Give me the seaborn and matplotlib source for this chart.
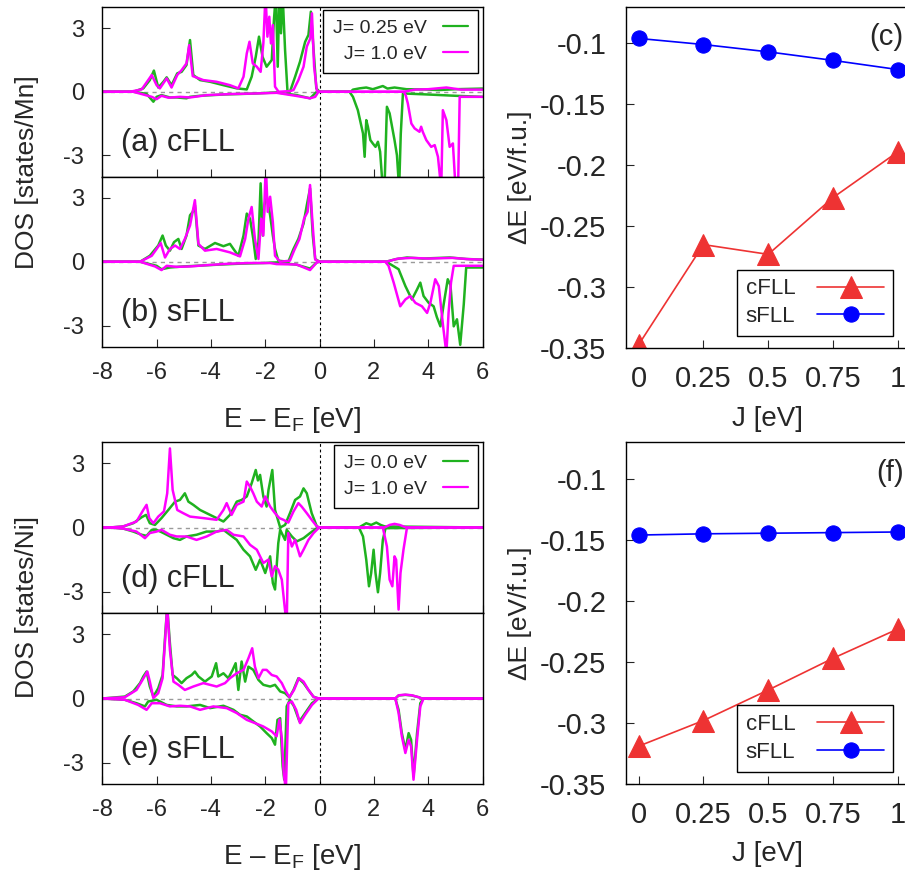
import matplotlib
matplotlib.use("Agg")
import matplotlib.pyplot as plt
from matplotlib.lines import Line2D
import seaborn as sns

# ---------------- data ----------------
# (a) Mn, cFLL : green J=0.25 eV, magenta J=1.0 eV
a_g_up_E = [-8, -6.86, -6.49, -6.25, -6.1, -5.94, -5.75, -5.63, -5.45, -5.24, -5.08, -4.9, -4.77, -4.65, -4.4,
            -4.03, -3.54, -3.05, -2.68, -2.5, -2.35, -2.23, -2.1, -1.95, -1.76, -1.68, -1.61, -1.54, -1.48, -1.42,
            -1.36, -1.27, -1.18, -1.09, -0.9, -0.72, -0.53, -0.41, -0.32, -0.22, -0.12, 0.0, 1.15, 1.23, 1.47,
            1.72, 1.96, 2.33, 2.5, 2.76, 3.2, 3.8, 4.4, 5.0, 6.0]
a_g_up_D = [0, 0, 0.16, 0.55, 1.0, 0.2, 0.47, 0.68, 0.31, 0.87, 0.94, 1.26, 2.44, 0.79, 0.55,
            0.47, 0.31, 0.16, 0.11, 0.71, 1.65, 2.6, 1.65, 1.18, 1.5, 3.39, 4.6, 1.18, 4.6, 2.76,
            4.6, 1.97, 0, 0, 0.71, 1.42, 2.36, 2.68, 3.78, 1.97, 0.16, 0, 0, 0.1, 0.16,
            0.2, 0.12, 0.27, 0.15, 0.2, 0.12, 0.11, 0.08, 0.12, 0.15]
a_m_up_E = [-8, -6.98, -6.55, -6.31, -6.18, -6.0, -5.88, -5.63, -5.45, -5.24, -5.08, -4.9, -4.8, -4.67, -4.28,
            -3.79, -3.3, -2.99, -2.8, -2.68, -2.58, -2.46, -2.31, -2.17, -2.07, -1.99, -1.92, -1.85, -1.79, -1.72,
            -1.64, -1.51, -1.09, -0.96, -0.78, -0.59, -0.47, -0.34, -0.28, -0.2, -0.1, 0.0, 3.1, 3.5, 4.0,
            4.67, 5.2, 6.0]
a_m_up_D = [0, 0, 0.11, 0.55, 0.79, 0.31, 0.16, 0.63, 0.2, 0.79, 1.02, 1.34, 2.2, 0.74, 0.55,
            0.47, 0.31, 0.16, 0.71, 1.81, 2.36, 1.34, 1.18, 0.94, 2.28, 4.6, 2.6, 3.54, 2.28, 3.15,
            0.24, 0, 0.03, 0.08, 0.55, 1.18, 2.13, 2.52, 3.7, 1.18, 0.05, 0, 0, 0.1, 0.12,
            0.2, 0.1, 0.1]
a_g_dn_E = [-8, -6.86, -6.37, -6.12, -6.0, -5.82, -5.51, -5.26, -4.9, -4.77, -4.4, -3.54, -2.31, -1.58, -0.84,
            -0.35, -0.1, 0.0, 1.1, 1.23, 1.41, 1.6, 1.66, 1.72, 1.78, 1.87, 1.96, 2.06, 2.15, 2.23,
            2.33, 2.39, 2.48, 2.58, 2.76, 2.85, 2.93, 2.99, 3.07, 4.0, 5.0, 6.0]
a_g_dn_D = [0, 0, -0.1, -0.47, -0.24, -0.16, -0.27, -0.27, -0.31, -0.24, -0.19, -0.13, -0.08, -0.03, -0.16,
            -0.31, 0, 0, 0, -0.24, -0.87, -1.97, -3.07, -1.34, -1.65, -2.28, -2.44, -2.6, -2.36, -2.83,
            -4.6, -4.6, -0.71, -1.02, -2.28, -3.0, -4.6, -2.0, -0.08, -0.13, -0.19, -0.24]
a_m_dn_E = [-8, -6.86, -6.18, -6.0, -5.82, -5.57, -5.14, -4.77, -4.16, -3.3, -2.31, -1.58, -0.84, -0.35, -0.16,
            -0.04, 0.0, 3.1, 3.17, 3.25, 3.38, 3.5, 3.68, 3.74, 3.8, 3.93, 4.11, 4.24, 4.36, 4.48,
            4.54, 4.67, 4.79, 4.91, 5.01, 5.1, 5.16, 6.0]
a_m_dn_D = [0, 0, -0.24, -0.35, -0.19, -0.28, -0.24, -0.27, -0.16, -0.11, -0.08, -0.05, -0.2, -0.31, -0.24,
            0, 0, 0, -0.16, -0.55, -1.5, -1.73, -1.89, -1.65, -1.89, -2.28, -2.6, -2.52, -3.07, -4.6,
            -0.87, -1.34, -2.6, -2.44, -4.6, -4.6, -0.24, -0.24]

# (b) Mn, sFLL
b_g_up_E = [-8, -6.61, -6.25, -5.94, -5.78, -5.66, -5.51, -5.36, -5.2, -5.08, -4.9, -4.77, -4.67, -4.59, -4.46,
            -4.22, -3.85, -3.54, -3.3, -3.17, -2.99, -2.8, -2.68, -2.56, -2.44, -2.35, -2.25, -2.17, -2.09, -2.03,
            -1.95, -1.82, -1.72, -1.64, -1.52, -1.15, -0.96, -0.78, -0.59, -0.47, -0.35, -0.25, -0.16, 0.0, 2.45,
            2.8, 3.22, 3.8, 4.8, 5.4, 6.0]
b_g_up_D = [0, 0, 0.28, 0.76, 1.23, 0.76, 0.52, 0.92, 1.07, 0.6, 1.23, 2.18, 2.34, 2.65, 0.76,
            0.6, 0.88, 0.73, 0.84, 0.6, 0.28, 1.23, 2.26, 2.02, 1.07, 0.13, 0.92, 3.68, 1.23, 2.65,
            3.13, 2.18, 1.23, 0.6, 0.05, 0, 0.6, 1.07, 1.79, 2.65, 3.44, 1.23, 0.13, 0, 0,
            0.12, 0.2, 0.15, 0.2, 0.13, 0.1]
b_m_up_E = [-8, -6.61, -6.18, -6.0, -5.85, -5.69, -5.51, -5.32, -5.14, -4.96, -4.77, -4.59, -4.46, -4.22, -3.79,
            -3.3, -2.93, -2.74, -2.62, -2.5, -2.38, -2.25, -2.15, -2.07, -1.98, -1.91, -1.82, -1.72, -1.64, -1.45,
            -1.09, -0.94, -0.74, -0.57, -0.44, -0.35, -0.27, -0.16, 0.0, 2.45, 2.9, 3.4, 4.0, 4.9, 5.5, 6.0]
b_m_up_D = [0, 0, 0.28, 0.6, 0.88, 0.2, 0.6, 0.76, 0.6, 1.07, 1.7, 2.89, 0.84, 0.52, 0.6,
            0.44, 0.25, 1.07, 2.02, 2.57, 1.07, 0.13, 2.02, 1.23, 4.6, 2.34, 3.05, 1.86, 0.28, 0,
            0.05, 0.52, 1.07, 2.02, 2.34, 3.6, 2.02, 0.1, 0, 0, 0.15, 0.18, 0.15, 0.18, 0.12, 0.1]
b_g_dn_E = [-8, -6.61, -6.0, -5.82, -5.51, -5.02, -4.53, -3.79, -2.93, -2.07, -1.58, -0.84, -0.35, -0.1, 0.0,
            2.42, 2.6, 2.91, 3.16, 3.4, 3.59, 3.71, 3.83, 4.02, 4.2, 4.32, 4.45, 4.57, 4.72, 4.82,
            4.94, 5.06, 5.18, 5.31, 5.4, 6.0]
b_g_dn_D = [0, 0, -0.19, -0.35, -0.27, -0.22, -0.19, -0.14, -0.09, -0.06, -0.03, -0.14, -0.32, -0.03, 0,
            0, -0.11, -0.35, -1.14, -1.77, -1.3, -0.98, -1.61, -1.93, -2.09, -2.6, -3.03, -2.0, -0.82, -1.1,
            -3.03, -2.7, -3.9, -2.0, -0.27, -0.27]
b_m_dn_E = [-8, -6.61, -6.06, -5.82, -5.63, -5.26, -4.77, -4.16, -3.3, -2.56, -1.82, -1.58, -0.84, -0.35, -0.1,
            0.0, 2.42, 2.54, 2.73, 2.97, 3.16, 3.34, 3.53, 3.77, 3.96, 4.08, 4.26, 4.39, 4.55, 4.67,
            4.75, 4.84, 4.94, 6.0]
b_m_dn_D = [0, 0, -0.22, -0.39, -0.19, -0.24, -0.22, -0.16, -0.09, -0.06, -0.06, -0.11, -0.13, -0.39, -0.03,
            0, 0, -0.19, -0.98, -2.09, -1.77, -1.61, -1.93, -2.09, -2.4, -1.93, -0.82, -1.14, -3.03, -4.3,
            -2.4, -0.98, -0.19, -0.19]

# (d) Ni, cFLL : green J=0.0 eV, magenta J=1.0 eV
d_g_up_E = [-8, -7.72, -7.23, -6.86, -6.55, -6.39, -6.25, -6.06, -5.82, -5.57, -5.32, -5.14, -4.96, -4.83, -4.65,
            -4.4, -4.16, -3.79, -3.54, -3.3, -3.05, -2.87, -2.68, -2.5, -2.35, -2.27, -2.19, -2.07, -1.95, -1.88,
            -1.74, -1.64, -1.45, -1.27, -1.09, -0.9, -0.72, -0.59, -0.47, -0.29, -0.1, 0.0, 1.45, 1.72, 1.9,
            2.09, 2.25, 2.4, 6.0]
d_g_up_D = [0, 0, 0.05, 0.2, 0.48, 0.59, 0.2, 0.12, 0.44, 0.82, 1.21, 1.29, 1.6, 1.21, 1.06,
            0.82, 0.67, 0.44, 0.28, 0.59, 1.21, 1.29, 1.45, 2.07, 2.69, 2.2, 2.46, 1.45, 0.98, 1.76,
            2.69, 0.82, 0, 0.12, 0.67, 1.29, 1.45, 1.83, 1.6, 0.67, 0.05, 0, 0, 0.2, 0.12,
            0.23, 0.12, 0.05, 0]
d_m_up_E = [-8, -7.72, -7.23, -6.74, -6.49, -6.37, -6.27, -6.12, -5.94, -5.73, -5.61, -5.51, -5.41, -5.24, -5.02,
            -4.77, -4.28, -3.79, -3.54, -3.42, -3.24, -3.05, -2.8, -2.68, -2.56, -2.44, -2.31, -2.13, -2.0, -1.82,
            -1.64, -1.48, -1.33, -1.15, -0.96, -0.78, -0.66, -0.47, -0.29, -0.1, 0.0, 2.39, 2.58, 2.76, 2.95,
            3.19, 6.0]
d_m_up_D = [0, 0, 0.05, 0.28, 0.82, 1.06, 0.44, 0.2, 0.51, 0.75, 1.6, 3.7, 1.76, 0.82, 0.67,
            0.51, 0.44, 0.36, 0.82, 1.14, 0.59, 1.06, 1.21, 2.15, 1.91, 1.6, 1.21, 0.98, 1.45, 0.98,
            0.67, 0.44, 0.36, 0.23, 0.75, 1.14, 0.98, 0.67, 0.36, 0.05, 0, 0, 0.12, 0.17, 0.12,
            0, 0]
d_g_dn_E = [-8, -7.72, -7.23, -6.86, -6.55, -6.37, -6.18, -6.0, -5.75, -5.38, -5.14, -4.9, -4.53, -4.16, -3.79,
            -3.54, -3.3, -3.05, -2.8, -2.56, -2.35, -2.19, -2.0, -1.82, -1.72, -1.64, -1.52, -1.45, -1.27, -1.21,
            -1.02, -0.84, -0.59, -0.35, -0.1, 0.0, 1.45, 1.6, 1.72, 1.82, 1.9, 1.99, 2.06, 2.15, 2.23,
            2.33, 2.43, 6.0]
d_g_dn_D = [0, 0, -0.05, -0.19, -0.34, -0.39, -0.11, -0.11, -0.26, -0.5, -0.58, -0.42, -0.34, -0.19, -0.19,
            -0.11, -0.34, -0.58, -1.04, -1.35, -1.98, -1.5, -2.13, -1.35, -2.6, -2.9, -0.73, -0.11, -0.58, -0.11,
            -0.42, -0.65, -0.5, -0.26, -0.03, 0, 0, -0.42, -1.51, -2.75, -2.13, -1.04, -2.13, -3.03, -2.13,
            -0.58, -0.03, 0]
d_m_dn_E = [-8, -7.72, -7.23, -6.74, -6.43, -6.25, -6.0, -5.82, -5.51, -5.26, -4.9, -4.53, -4.16, -3.79, -3.42,
            -3.17, -2.8, -2.56, -2.31, -2.07, -1.88, -1.76, -1.64, -1.52, -1.39, -1.3, -1.21, -1.15, -1.02, -0.9,
            -0.72, -0.59, -0.41, -0.22, -0.04, 0.0, 2.33, 2.48, 2.58, 2.68, 2.76, 2.82, 2.91, 2.98, 3.09,
            3.22, 6.0]
d_m_dn_D = [0, 0, -0.05, -0.19, -0.5, -0.26, -0.19, -0.11, -0.34, -0.42, -0.42, -0.58, -0.42, -0.19, -0.11,
            -0.34, -0.42, -0.81, -1.04, -1.66, -1.5, -2.29, -1.81, -1.97, -2.44, -3.53, -4.6, -0.26, -0.89, -0.58,
            -1.35, -1.04, -0.58, -0.26, -0.03, 0, 0, -0.89, -2.44, -2.75, -1.35, -1.51, -3.84, -2.13, -1.04,
            0, 0]

# (e) Ni, sFLL
e_g_up_E = [-8, -7.17, -6.86, -6.61, -6.49, -6.37, -6.25, -6.12, -5.94, -5.78, -5.68, -5.61, -5.51, -5.41, -5.26,
            -5.08, -4.9, -4.71, -4.59, -4.46, -4.22, -3.97, -3.81, -3.73, -3.54, -3.36, -3.2, -3.09, -2.99, -2.87,
            -2.74, -2.62, -2.44, -2.25, -2.07, -1.82, -1.64, -1.45, -1.27, -1.11, -0.96, -0.78, -0.59, -0.41, -0.23,
            -0.04, 0.0, 2.79, 2.91, 3.16, 3.4, 3.65, 3.77, 6.0]
e_g_up_D = [0, 0.09, 0.33, 0.72, 1.03, 1.26, 0.56, 0.09, 0.48, 1.1, 3.05, 4.3, 2.58, 1.1, 0.95,
            0.72, 0.95, 1.1, 1.26, 1.03, 0.79, 1.03, 1.65, 1.03, 1.18, 0.95, 1.34, 1.65, 0.4, 1.73,
            0.79, 1.49, 1.34, 0.87, 0.64, 0.56, 0.64, 0.33, 0.25, 0.05, 0.4, 0.95, 0.72, 0.4, 0.09,
            0, 0, 0, 0.14, 0.17, 0.14, 0.06, 0, 0]
e_m_up_E = [-8, -7.17, -6.74, -6.52, -6.34, -6.25, -6.12, -5.94, -5.78, -5.68, -5.61, -5.51, -5.38, -5.2, -4.96,
            -4.65, -4.28, -3.79, -3.48, -3.3, -3.05, -2.8, -2.62, -2.48, -2.38, -2.25, -2.09, -1.95, -1.76, -1.58,
            -1.39, -1.27, -1.11, -0.94, -0.76, -0.59, -0.41, -0.21, 0.0, 2.79, 2.91, 3.16, 3.4, 3.65, 3.77, 6.0]
e_m_up_D = [0, 0.06, 0.4, 0.87, 1.26, 0.79, 0.02, 0.25, 0.95, 2.89, 4.3, 2.27, 0.79, 0.64, 0.4,
            0.56, 0.72, 0.56, 0.72, 0.95, 1.18, 1.34, 1.88, 2.35, 1.49, 0.95, 1.34, 1.34, 1.1, 1.03,
            0.72, 0.4, 0.06, 0.4, 0.95, 0.79, 0.4, 0.06, 0, 0, 0.15, 0.18, 0.15, 0.06, 0, 0]
e_g_dn_E = [-8, -7.17, -6.74, -6.43, -6.31, -6.0, -5.63, -5.26, -4.9, -4.4, -4.03, -3.54, -3.17, -2.93, -2.68,
            -2.44, -2.19, -1.95, -1.76, -1.64, -1.55, -1.45, -1.36, -1.3, -1.21, -1.09, -0.94, -0.74, -0.53, -0.28,
            -0.04, 0.0, 2.79, 2.91, 3.03, 3.16, 3.28, 3.37, 3.46, 3.59, 3.71, 3.83, 6.0]
e_g_dn_D = [0, -0.06, -0.22, -0.37, -0.14, -0.06, -0.3, -0.37, -0.37, -0.3, -0.45, -0.34, -0.53, -0.76, -0.84,
            -1.07, -1.31, -1.62, -1.85, -2.16, -1.0, -0.92, -3.17, -3.8, -0.37, -0.06, -0.37, -1.07, -0.68, -0.22,
            0, 0, 0, -0.53, -1.62, -2.4, -1.62, -1.93, -3.64, -1.62, -0.22, 0, 0]
e_m_dn_E = [-8, -7.17, -6.68, -6.37, -6.18, -5.88, -5.51, -5.14, -4.77, -4.4, -3.91, -3.42, -3.05, -2.68, -2.38,
            -2.07, -1.76, -1.58, -1.48, -1.39, -1.32, -1.24, -1.15, -1.02, -0.86, -0.72, -0.53, -0.28, -0.04, 0.0,
            2.79, 2.91, 3.03, 3.16, 3.28, 3.37, 3.46, 3.59, 3.71, 3.83, 6.0]
e_m_dn_D = [0, -0.06, -0.3, -0.53, -0.22, -0.22, -0.37, -0.34, -0.37, -0.53, -0.37, -0.45, -0.68, -1.0, -1.15,
            -1.31, -1.54, -1.77, -0.99, -1.85, -3.48, -4.3, -0.22, -0.14, -0.53, -1.15, -0.76, -0.3, 0, 0,
            0, -0.68, -1.77, -2.55, -1.93, -2.24, -3.8, -1.93, -0.37, 0, 0]

# energy differences vs J
J_vals = [0, 0.25, 0.5, 0.75, 1.0]
J_ticklabels = ["0", "0.25", "0.5", "0.75", "1"]
mn_cfll = [-0.347, -0.265, -0.273, -0.2265, -0.189]
mn_sfll = [-0.096, -0.101, -0.107, -0.114, -0.1215]
ni_cfll = [-0.319, -0.298, -0.273, -0.247, -0.223]
ni_sfll = [-0.146, -0.145, -0.1445, -0.144, -0.1435]
dE_ticks = [-0.35, -0.3, -0.25, -0.2, -0.15, -0.1]
dE_ticklabels = ["-0.35", "-0.3", "-0.25", "-0.2", "-0.15", "-0.1"]

# ---------------- style ----------------
sns.set_style("ticks")
plt.rcParams['font.family'] = ['Liberation Sans', 'DejaVu Sans']
plt.rcParams['mathtext.fontset'] = 'custom'
plt.rcParams['mathtext.rm'] = 'Liberation Sans'
plt.rcParams['mathtext.it'] = 'Liberation Sans'
plt.rcParams['mathtext.default'] = 'regular'

GREEN = '#1fb21f'
MAGENTA = '#ff00ff'
RED = '#ee3333'
BLUE = '#0000ff'

W, H = 905, 875
fig = plt.figure(figsize=(W / 100, H / 100), dpi=100)


def px_axes(x0, y0, x1, y1):
    # pixel box (top-left origin) -> figure axes
    return fig.add_axes([x0 / W, 1 - y1 / H, (x1 - x0) / W, (y1 - y0) / H])


def dos_panel(ax, curves, label, legend_labels=None, show_xtl=False):
    ax.axhline(0, color='#9a9a9a', lw=1.0, dashes=(3, 3), zorder=1)
    ax.axvline(0, color='black', lw=0.8, dashes=(2.5, 2.5), zorder=1)
    for E, D, c in curves:
        sns.lineplot(x=E, y=D, ax=ax, color=c, lw=1.8, sort=False, estimator=None, zorder=2)
    ax.set_xlim(-8, 6)
    ax.set_ylim(-4, 4)
    ax.set_xticks(range(-8, 7, 2))
    ax.set_yticks([-3, 0, 3])
    ax.set_yticklabels(["-3", "0", "3"])
    ax.tick_params(direction='in', length=5.5, width=0.8, labelsize=17, top=False, right=False)
    ax.tick_params(axis='y', pad=13)
    ax.tick_params(axis='x', pad=11)
    if show_xtl:
        ax.set_xticklabels([str(v) for v in range(-8, 7, 2)])
    else:
        ax.set_xticklabels([])
    for s in ax.spines.values():
        s.set_linewidth(1.0)
        s.set_color('black')
    ax.text(0.05, 0.2, label, transform=ax.transAxes, fontsize=22, va='center', ha='left')
    if legend_labels:
        handles = [Line2D([], [], color=GREEN, lw=1.6), Line2D([], [], color=MAGENTA, lw=1.6)]
        leg = ax.legend(handles, legend_labels, loc='upper right', bbox_to_anchor=(0.987, 0.985),
                        borderaxespad=0, fontsize=14, markerfirst=False, handlelength=1.3,
                        handletextpad=0.8, labelspacing=0.45, borderpad=0.5, fancybox=False,
                        framealpha=1, edgecolor='black')
        leg.get_frame().set_linewidth(1.0)


def de_panel(ax, cf, sf, label):
    sns.lineplot(x=J_vals, y=cf, ax=ax, color=RED, lw=1.2, marker='^', markersize=16,
                 markeredgecolor=RED, sort=False, estimator=None, label='cFLL')
    sns.lineplot(x=J_vals, y=sf, ax=ax, color=BLUE, lw=1.2, marker='o', markersize=11,
                 markeredgecolor=BLUE, sort=False, estimator=None, label='sFLL')
    ax.set_xlim(-0.05, 1.05)
    ax.set_ylim(-0.35, -0.07)
    ax.set_xticks(J_vals)
    ax.set_xticklabels(J_ticklabels)
    ax.set_yticks(dE_ticks)
    ax.set_yticklabels(dE_ticklabels)
    ax.tick_params(direction='in', length=5.5, width=0.8, labelsize=21, top=False, right=False)
    ax.tick_params(axis='y', pad=14)
    ax.tick_params(axis='x', pad=12)
    for s in ax.spines.values():
        s.set_linewidth(1.0)
        s.set_color('black')
    ax.text(0.975, 0.91, label, transform=ax.transAxes, fontsize=21, va='center', ha='right')
    # gnuplot style key: text first, sample on the right
    leg = ax.legend(loc='lower right', bbox_to_anchor=(0.938, 0.036), borderaxespad=0, fontsize=16,
                    markerfirst=False, handlelength=3.0, handletextpad=1.0, labelspacing=0.3,
                    borderpad=0.4, fancybox=False, framealpha=1, edgecolor='black', numpoints=1)
    leg.get_frame().set_linewidth(1.0)


# ---------------- panels ----------------
ax_a = px_axes(102.3, 7, 482.5, 176.5)
dos_panel(ax_a, [(a_g_up_E, a_g_up_D, GREEN), (a_g_dn_E, a_g_dn_D, GREEN),
                 (a_m_up_E, a_m_up_D, MAGENTA), (a_m_dn_E, a_m_dn_D, MAGENTA)],
          "(a) cFLL", ["J= 0.25 eV", "\u2007J= 1.0 eV"])
ax_b = px_axes(102.3, 176.5, 482.5, 347)
dos_panel(ax_b, [(b_g_up_E, b_g_up_D, GREEN), (b_g_dn_E, b_g_dn_D, GREEN),
                 (b_m_up_E, b_m_up_D, MAGENTA), (b_m_dn_E, b_m_dn_D, MAGENTA)],
          "(b) sFLL", show_xtl=True)
ax_d = px_axes(102.3, 442, 482.5, 613)
dos_panel(ax_d, [(d_g_up_E, d_g_up_D, GREEN), (d_g_dn_E, d_g_dn_D, GREEN),
                 (d_m_up_E, d_m_up_D, MAGENTA), (d_m_dn_E, d_m_dn_D, MAGENTA)],
          "(d) cFLL", ["J= 0.0 eV", "J= 1.0 eV"])
ax_e = px_axes(102.3, 613, 482.5, 784)
dos_panel(ax_e, [(e_g_up_E, e_g_up_D, GREEN), (e_g_dn_E, e_g_dn_D, GREEN),
                 (e_m_up_E, e_m_up_D, MAGENTA), (e_m_dn_E, e_m_dn_D, MAGENTA)],
          "(e) sFLL", show_xtl=True)

ax_c = px_axes(625.7, 6.7, 910.7, 348.3)
de_panel(ax_c, mn_cfll, mn_sfll, "(c)")
ax_f = px_axes(625.7, 442.3, 910.7, 784)
de_panel(ax_f, ni_cfll, ni_sfll, "(f)")

# ---------------- axis labels ----------------
fig.text(27 / W, 1 - 172 / H, "DOS [states/Mn]", rotation=90, ha='center', va='center', fontsize=19)
fig.text(27 / W, 1 - 607 / H, "DOS [states/Ni]", rotation=90, ha='center', va='center', fontsize=19)
fig.text(292 / W, 1 - 427 / H, "E \u2013 E$_F$ [eV]", ha='center', va='baseline', fontsize=20)
fig.text(292 / W, 1 - 864 / H, "E \u2013 E$_F$ [eV]", ha='center', va='baseline', fontsize=20)
fig.text(520 / W, 1 - 177 / H, "\u0394E [eV/f.u.]", rotation=90, ha='center', va='center', fontsize=19)
fig.text(520 / W, 1 - 613 / H, "\u0394E [eV/f.u.]", rotation=90, ha='center', va='center', fontsize=19)
fig.text(767 / W, 1 - 426 / H, "J [eV]", ha='center', va='baseline', fontsize=20)
fig.text(767 / W, 1 - 861 / H, "J [eV]", ha='center', va='baseline', fontsize=20)

fig.savefig("out.png", dpi=100)
